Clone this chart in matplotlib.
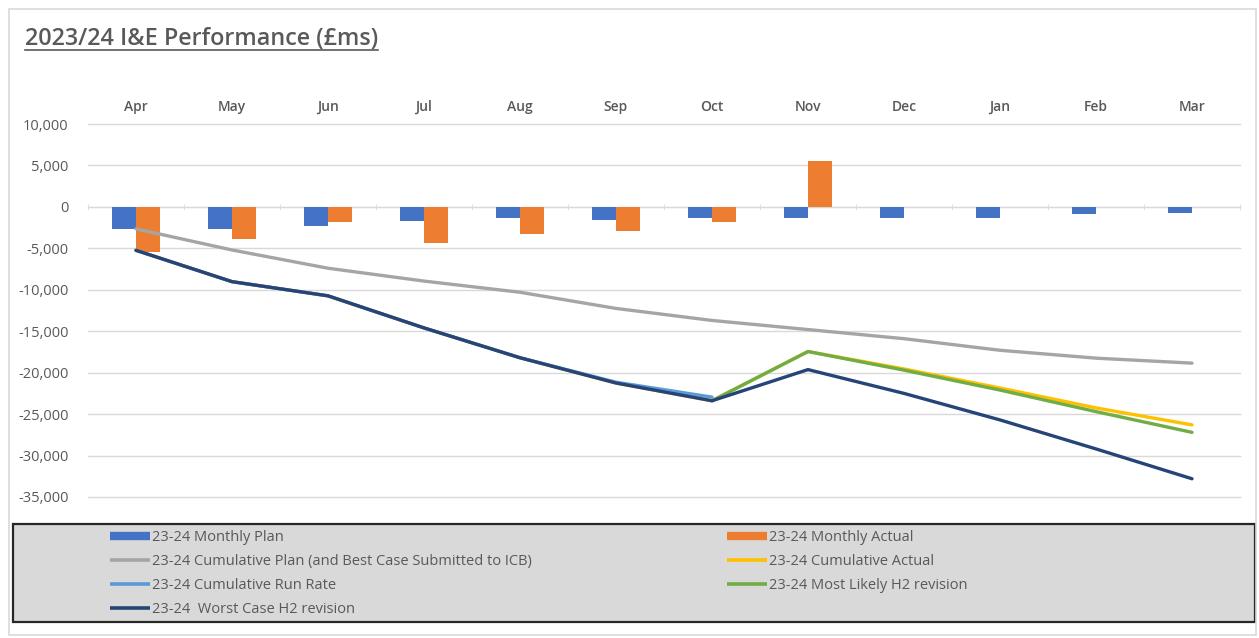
import matplotlib
matplotlib.use('Agg')
import matplotlib.pyplot as plt
from matplotlib.patches import Rectangle
from matplotlib.lines import Line2D
from matplotlib.ticker import FuncFormatter, FixedLocator
import numpy as np

months = ['Apr', 'May', 'Jun', 'Jul', 'Aug', 'Sep', 'Oct', 'Nov', 'Dec', 'Jan', 'Feb', 'Mar']
monthly_plan = [-2650, -2650, -2300, -1650, -1380, -1530, -1290, -1290, -1290, -1290, -850, -770]
monthly_actual = [-5400, -3870, -1770, -4310, -3230, -2900, -1770, 5560]
cum_plan = [-2650, -5200, -7400, -8950, -10300, -12250, -13700, -14800, -15900, -17300, -18250, -18850]
cum_actual = [-5240, -9020, -10730, -14600, -18200, -21250, -23390, -17450, -19550, -21850, -24250, -26300]
run_rate = [-5240, -9020, -10730, -14600, -18200, -21150, -22950]
most_likely = [-23390, -17450, -19700, -22100, -24700, -27200]
worst_case = [-5240, -9020, -10730, -14600, -18200, -21250, -23390, -19630, -22500, -25700, -29200, -32800]

labels = ['23-24 Monthly Plan', '23-24 Monthly Actual',
          '23-24 Cumulative Plan (and Best Case Submitted to ICB)', '23-24 Cumulative Actual',
          '23-24 Cumulative Run Rate', '23-24 Most Likely H2 revision',
          '23-24  Worst Case H2 revision']

C_BLUE = '#4472C4'
C_ORANGE = '#ED7D31'
C_GRAY = '#A5A5A5'
C_YELLOW = '#FFC000'
C_LBLUE = '#5B9BD5'
C_GREEN = '#70AD47'
C_NAVY = '#264478'
TXT = '#595959'

plt.rcParams['font.family'] = ['Open Sans', 'DejaVu Sans']

W, H = 1259, 638
fig = plt.figure(figsize=(W / 100, H / 100), dpi=100)

def fx(px):
    return px / W

def fy(py):
    return 1 - py / H

# outer frame
fig.patches.append(Rectangle((fx(9), fy(635)), fx(1256) - fx(9), fy(9) - fy(635),
                             transform=fig.transFigure, fill=False, edgecolor='#d9d9d9', lw=1.2))

ax = fig.add_axes([fx(88), fy(497), fx(1240) - fx(88), fy(124) - fy(497)])
x = np.arange(len(months))
bw = 0.25
ax.bar(x - bw / 2, monthly_plan, width=bw, color=C_BLUE, zorder=2)
ax.bar(x[:len(monthly_actual)] + bw / 2, monthly_actual, width=bw, color=C_ORANGE, zorder=2)

lw = 2.4
ax.plot(x, cum_plan, color=C_GRAY, lw=lw, zorder=3, solid_capstyle='round')
ax.plot(x, cum_actual, color=C_YELLOW, lw=lw, zorder=4, solid_capstyle='round')
ax.plot(x[:len(run_rate)], run_rate, color=C_LBLUE, lw=lw, zorder=5, solid_capstyle='round')
ax.plot(x[len(x) - len(most_likely):], most_likely, color=C_GREEN, lw=lw, zorder=6, solid_capstyle='round')
ax.plot(x, worst_case, color=C_NAVY, lw=lw, zorder=7, solid_capstyle='round')

ax.set_xlim(-0.5, len(months) - 0.5)
ax.set_ylim(-35000, 10000)
ax.set_yticks(np.arange(-35000, 10001, 5000))
ax.yaxis.set_major_formatter(FuncFormatter(lambda v, p: f'{v:,.0f}'))
ax.grid(axis='y', color='#d9d9d9', lw=1, zorder=0)
for gl in ax.get_ygridlines():
    gl.set_clip_on(False)
ax.set_axisbelow(True)
for s in ['left', 'right', 'top']:
    ax.spines[s].set_visible(False)
ax.spines['bottom'].set_position(('data', 0))
ax.spines['bottom'].set_color('#d9d9d9')
ax.spines['bottom'].set_zorder(1)

ax.set_xticks(x)
ax.set_xticklabels(months)
ax.xaxis.set_minor_locator(FixedLocator(np.arange(-0.5, len(months), 1)))
ax.tick_params(axis='x', which='major', length=0, labeltop=True, labelbottom=False,
               pad=7, labelsize=10, labelcolor=TXT)
ax.tick_params(axis='x', which='minor', bottom=True, top=False, length=4, direction='inout',
               color='#d9d9d9')
for t in ax.get_xticklabels():
    t.set_fontweight('semibold')
ax.tick_params(axis='y', length=0, pad=14, labelsize=10.5, labelcolor=TXT)

# title
title = fig.text(fx(25), fy(39), '2023/24 I&E Performance (£ms)', fontsize=16.8, fontweight='semibold',
                 color=TXT, ha='left', va='center')

# legend box
fig.patches.append(Rectangle((fx(13), fy(622)), fx(1255) - fx(13), fy(524) - fy(622),
                             transform=fig.transFigure, facecolor='#d9d9d9', edgecolor='#262626',
                             lw=1.6, zorder=0))

bar_h = lambda c: Line2D([0], [0], color=c, lw=6, solid_capstyle='butt')
line_h = lambda c: Line2D([0], [0], color=c, lw=2.6, solid_capstyle='butt')
col1 = [bar_h(C_BLUE), line_h(C_GRAY), line_h(C_LBLUE), line_h(C_NAVY)]
col1_l = [labels[0], labels[2], labels[4], labels[6]]
col2 = [bar_h(C_ORANGE), line_h(C_YELLOW), line_h(C_GREEN)]
col2_l = [labels[1], labels[3], labels[5]]

common = dict(frameon=False, fontsize=10.5, labelcolor=TXT, handlelength=2.74, handletextpad=0.15,
              labelspacing=0.62, borderpad=0, borderaxespad=0, loc='upper left')
fig.legend(col1, col1_l, bbox_to_anchor=(fx(110), fy(530)), **common)
fig.legend(col2, col2_l, bbox_to_anchor=(fx(727), fy(530)), **common)

fig.canvas.draw()
r = fig.canvas.get_renderer()
bb = title.get_window_extent(r)
inv = fig.transFigure.inverted()
(x0, y0), (x1, y1) = inv.transform([(bb.x0, bb.y0), (bb.x1, bb.y1)])
fig.add_artist(Line2D([x0, x1], [y0 + 0.002, y0 + 0.002], transform=fig.transFigure, color=TXT, lw=1.2))

fig.savefig('out.png', dpi=100)
